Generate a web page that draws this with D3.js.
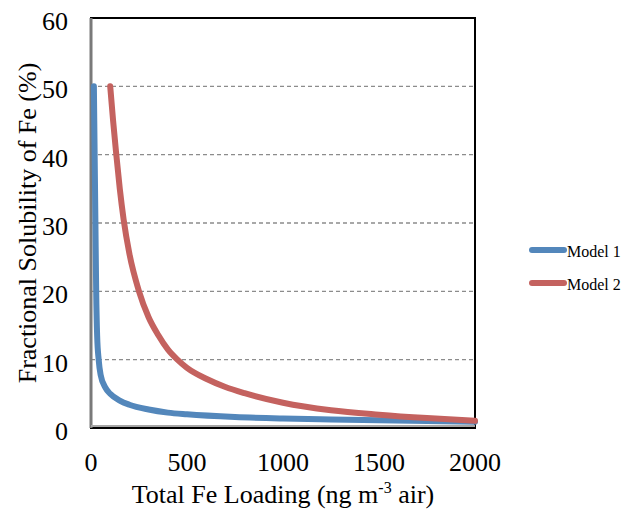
<!DOCTYPE html>
<html>
<head>
<meta charset="utf-8">
<script src="https://cdn.jsdelivr.net/npm/d3@7"></script>
<style>
  html, body { margin: 0; padding: 0; background: #fff; }
</style>
</head>
<body>
<svg id="chart" width="625" height="510" font-family="'Liberation Serif', 'Times New Roman', Times, 'DejaVu Serif', serif"></svg>
<script>
// ---- data ----
const seriesNames = ["Model 1", "Model 2"];
const model1X = [15, 19, 23, 27, 32, 40, 50, 75, 100, 150, 200, 300, 400, 500, 750, 1000, 1250, 1500, 1750, 2000];
const model1Y = [50, 40, 30, 20, 13.5, 10, 7.8, 5.9, 5.0, 4.0, 3.4, 2.7, 2.25, 2.0, 1.6, 1.38, 1.24, 1.12, 1.02, 0.93];
const model2X = [100, 115, 130, 150, 170, 200, 250, 300, 350, 400, 450, 500, 600, 700, 800, 1000, 1250, 1500, 1750, 2000];
const model2Y = [50, 45, 40.5, 35, 30.5, 25.5, 20, 16.2, 13.6, 11.5, 10, 8.8, 7.2, 6.0, 5.1, 3.7, 2.6, 1.95, 1.45, 1.05];
const xTicks = [0, 500, 1000, 1500, 2000];
const yTicks = [0, 10, 20, 30, 40, 50, 60];
const colors = ["#5387BB", "#C4625F"];

const svg = d3.select("#chart");
const pL = 91, pR = 475, pT = 18, pB = 428;

const x = d3.scaleLinear().domain([0, 2000]).range([pL, pR]);
const y = d3.scaleLinear().domain([0, 60]).range([pB, pT]);

// gridlines
svg.append("g").selectAll("line")
  .data(yTicks.filter(t => t > 0 && t < 60))
  .join("line")
  .attr("x1", pL).attr("x2", pR)
  .attr("y1", d => y(d)).attr("y2", d => y(d))
  .attr("stroke", "#8c8c8c").attr("stroke-width", 1.3)
  .attr("stroke-dasharray", "4,3");

// frame
svg.append("rect")
  .attr("x", pL).attr("y", pT)
  .attr("width", pR - pL).attr("height", pB - pT)
  .attr("fill", "none").attr("stroke", "#000").attr("stroke-width", 2);
// grey axis lines (left and bottom)
svg.append("line").attr("x1", pL).attr("x2", pL).attr("y1", pT).attr("y2", pB)
  .attr("stroke", "#7a7a7a").attr("stroke-width", 3);
svg.append("line").attr("x1", pL).attr("x2", pR).attr("y1", pB - 2).attr("y2", pB - 2)
  .attr("stroke", "#a6a6a6").attr("stroke-width", 2);

// series
const line = d3.line().x(d => x(d[0])).y(d => y(d[1])).curve(d3.curveMonotoneX);
const data1 = model1X.map((v, i) => [v, model1Y[i]]);
const data2 = model2X.map((v, i) => [v, model2Y[i]]);
[data1, data2].forEach((d, i) => {
  svg.append("path").datum(d)
    .attr("d", line)
    .attr("fill", "none")
    .attr("stroke", colors[i])
    .attr("stroke-width", 6)
    .attr("stroke-linecap", "round")
    .attr("stroke-linejoin", "round");
});

// y tick labels
svg.append("g").selectAll("text")
  .data(yTicks).join("text")
  .attr("x", 68).attr("y", d => y(d) + 12)
  .attr("text-anchor", "end")
  .attr("font-size", 26)
  .text(d => d);

// x tick labels
svg.append("g").selectAll("text")
  .data(xTicks).join("text")
  .attr("x", d => x(d)).attr("y", 471)
  .attr("text-anchor", "middle")
  .attr("font-size", 26)
  .text(d => d);

// y title
svg.append("text")
  .attr("transform", "translate(36,223) rotate(-90)")
  .attr("text-anchor", "middle")
  .attr("font-size", 26)
  .text("Fractional Solubility of Fe (%)");

// x title
const xt = svg.append("text")
  .attr("x", 283).attr("y", 503)
  .attr("text-anchor", "middle")
  .attr("font-size", 26);
xt.append("tspan").text("Total Fe Loading (ng m");
xt.append("tspan").attr("font-size", 16).attr("dy", -10).text("-3");
xt.append("tspan").attr("dy", 10).text(" air)");

// legend
const legendY = [250, 283];
seriesNames.forEach((name, i) => {
  svg.append("line")
    .attr("x1", 532).attr("x2", 564)
    .attr("y1", legendY[i]).attr("y2", legendY[i])
    .attr("stroke", colors[i]).attr("stroke-width", 6)
    .attr("stroke-linecap", "round");
  svg.append("text")
    .attr("x", 567).attr("y", legendY[i] + 7)
    .attr("font-size", 16)
    .text(name);
});
</script>
</body>
</html>
